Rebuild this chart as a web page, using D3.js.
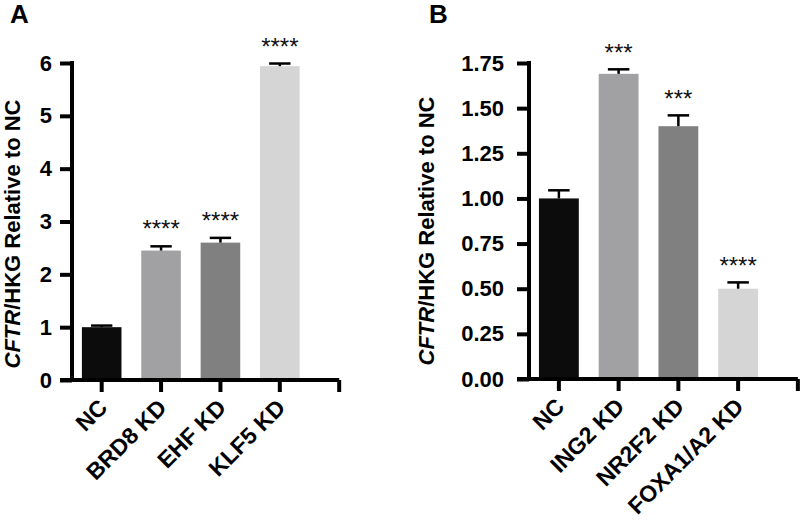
<!DOCTYPE html>
<html>
<head>
<meta charset="utf-8">
<script src="https://cdn.jsdelivr.net/npm/d3@7"></script>
<style>
  body { margin: 0; background: #fff; }
  svg { display: block; font-family: "Liberation Sans", Arial, Helvetica, sans-serif; }
</style>
</head>
<body>
<svg id="chart" width="800" height="520"></svg>
<script>
// ---- Data ----
const categoriesA = ["NC", "BRD8 KD", "EHF KD", "KLF5 KD"];
const valuesA = [1.0, 2.45, 2.60, 5.94];
const errorsA = [0.03, 0.08, 0.09, 0.05];
const starsA = ["", "****", "****", "****"];
const ticksA = [0, 1, 2, 3, 4, 5, 6];

const categoriesB = ["NC", "ING2 KD", "NR2F2 KD", "FOXA1/A2 KD"];
const valuesB = [1.0, 1.69, 1.40, 0.50];
const errorsB = [0.045, 0.025, 0.06, 0.035];
const starsB = ["", "***", "***", "****"];
const ticksB = [0, 0.25, 0.5, 0.75, 1.0, 1.25, 1.5, 1.75];

const barColors = ["#0c0c0c", "#a1a1a3", "#7f807f", "#d4d5d4"];

const svg = d3.select("#chart");

function panel(opts) {
  const { cats, vals, errs, stars, ticks, yMax, yRange, xRange, fmt,
          label, labelPos, titleX, titleY, tickFont, tickPad, starGap } = opts;
  const g = svg.append("g");
  const y = d3.scaleLinear().domain([0, yMax]).range(yRange);
  const x = d3.scaleBand().domain(cats).range(xRange)
              .paddingInner(1/3).paddingOuter(1/6);
  const axisX = xRange[0];
  const tickLen = 12;
  const sw = 4;

  // bars
  g.selectAll("rect.bar").data(cats).join("rect")
    .attr("class", "bar")
    .attr("x", d => x(d))
    .attr("width", x.bandwidth())
    .attr("y", (d, i) => y(vals[i]))
    .attr("height", (d, i) => y(0) - y(vals[i]))
    .attr("fill", (d, i) => barColors[i]);

  // error bars (upper only)
  const eg = g.selectAll("g.err").data(cats).join("g").attr("class", "err");
  eg.append("line")
    .attr("x1", d => x(d) + x.bandwidth() / 2)
    .attr("x2", d => x(d) + x.bandwidth() / 2)
    .attr("y1", (d, i) => y(vals[i]))
    .attr("y2", (d, i) => y(vals[i] + errs[i]))
    .attr("stroke", "#000").attr("stroke-width", 2.5);
  eg.append("line")
    .attr("x1", d => x(d) + x.bandwidth() / 2 - x.bandwidth() * 0.27)
    .attr("x2", d => x(d) + x.bandwidth() / 2 + x.bandwidth() * 0.27)
    .attr("y1", (d, i) => y(vals[i] + errs[i]))
    .attr("y2", (d, i) => y(vals[i] + errs[i]))
    .attr("stroke", "#000").attr("stroke-width", 2.5);

  // significance stars
  g.selectAll("text.star").data(cats).join("text")
    .attr("class", "star")
    .attr("x", d => x(d) + x.bandwidth() / 2)
    .attr("y", (d, i) => y(vals[i] + errs[i]) - starGap)
    .attr("text-anchor", "middle")
    .attr("font-size", 24)
    .attr("fill", "#111")
    .text((d, i) => stars[i]);

  // y axis
  const ya = g.append("g")
    .attr("transform", `translate(${axisX},0)`)
    .call(d3.axisLeft(y).tickValues(ticks).tickFormat(fmt)
          .tickSize(tickLen).tickSizeOuter(0).tickPadding(tickPad));
  ya.select(".domain").attr("stroke", "#000").attr("stroke-width", sw)
    .attr("d", `M0,${y(0) + sw / 2}V${y(yMax) - sw / 2}`);
  ya.selectAll(".tick line").attr("stroke", "#000").attr("stroke-width", sw);
  ya.selectAll(".tick text").attr("font-size", tickFont).attr("font-weight", "bold")
    .attr("fill", "#000").attr("font-family", "inherit");

  // x axis
  const endX = xRange[1] + x.step() / 2;
  const xa = g.append("g")
    .attr("transform", `translate(0,${y(0)})`)
    .call(d3.axisBottom(x).tickSize(tickLen).tickSizeOuter(0).tickPadding(0));
  xa.select(".domain").attr("stroke", "#000").attr("stroke-width", sw)
    .attr("d", `M${axisX - tickLen},0H${endX}`);
  xa.selectAll(".tick line").attr("stroke", "#000").attr("stroke-width", sw)
    .attr("y1", 0);
  xa.append("line").attr("x1", endX).attr("x2", endX)
    .attr("y1", 0).attr("y2", tickLen)
    .attr("stroke", "#000").attr("stroke-width", sw);
  xa.selectAll(".tick text")
    .attr("font-size", 23).attr("font-weight", "bold").attr("fill", "#000")
    .attr("font-family", "inherit")
    .attr("text-anchor", "end")
    .attr("x", 0).attr("y", 0).attr("dy", 0)
    .attr("transform", "translate(7,29) rotate(-45)");

  // y title
  const t = g.append("text")
    .attr("transform", `translate(${titleX},${titleY}) rotate(-90)`)
    .attr("text-anchor", "middle")
    .attr("font-size", 22).attr("font-weight", "bold").attr("fill", "#000");
  t.append("tspan").attr("font-style", "italic").text("CFTR");
  t.append("tspan").text("/HKG Relative to NC");

  // panel letter
  g.append("text")
    .attr("x", labelPos[0]).attr("y", labelPos[1])
    .attr("font-size", 26).attr("font-weight", "bold").attr("fill", "#000")
    .text(label);
}

panel({
  cats: categoriesA, vals: valuesA, errs: errorsA, stars: starsA, ticks: ticksA,
  yMax: 6, yRange: [380, 63], xRange: [72, 309.5], fmt: d3.format("d"),
  label: "A", labelPos: [10, 23], titleX: 20, titleY: 234,
  tickFont: 22, tickPad: 8, starGap: 9
});

panel({
  cats: categoriesB, vals: valuesB, errs: errorsB, stars: starsB, ticks: ticksB,
  yMax: 1.75, yRange: [379, 63], xRange: [529, 768], fmt: d3.format(".2f"),
  label: "B", labelPos: [429, 23], titleX: 434, titleY: 231,
  tickFont: 22, tickPad: 13, starGap: 8
});
</script>
</body>
</html>
